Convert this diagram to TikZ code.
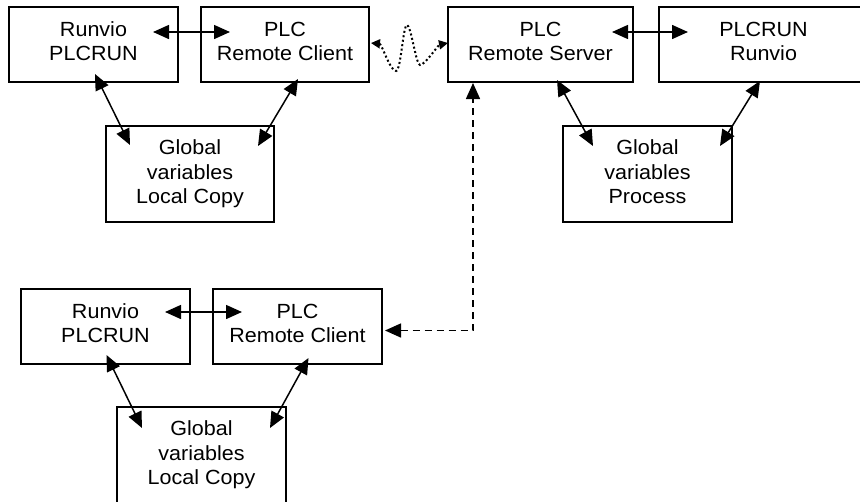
\documentclass[tikz,border=0pt]{standalone}
\usepackage{fontspec}
\setmainfont{Liberation Sans}[FakeStretch=1.05]
\usetikzlibrary{arrows.meta,calc}
\begin{document}
\begin{tikzpicture}[x=1pt,y=-1pt,
  box/.style={draw, line width=1.5pt, align=center, inner sep=0pt, outer sep=0pt,
    font=\fontsize{20.5}{24.5}\selectfont},
  twoline/.style={box, minimum height=75pt, text depth=6.5pt},
  threeline/.style={box, minimum height=96pt, text depth=4.5pt},
  conn/.style={line width=1.5pt, {Triangle[length=16pt,width=14pt]}-{Triangle[length=16pt,width=14pt]}},
  dashconn/.style={conn, dash pattern=on 7pt off 5pt},
  dotconn/.style={line width=2pt, dash pattern=on 2pt off 2.5pt,
    {Triangle[length=9pt,width=9pt]}-{Triangle[length=9pt,width=9pt]}}
]
\fill[white] (0,0) rectangle (860,501);
\useasboundingbox (0,0) rectangle (860,501);

\node[twoline, minimum width=169pt] (b1) at (93.5,44.5) {Runvio\\PLCRUN};
\node[twoline, minimum width=168pt] (b2) at (285,44.5) {PLC\\Remote Client};
\node[threeline, minimum width=168pt] (b3) at (190,174) {Global\\variables\\Local Copy};
\node[twoline, minimum width=185pt] (b4) at (540.5,44.5) {PLC\\Remote Server};
\node[twoline, minimum width=209pt] (b5) at (763.5,44.5) {PLCRUN\\Runvio};
\node[threeline, minimum width=169pt] (b6) at (647.5,174) {Global\\variables\\Process};
\node[twoline, minimum width=169pt] (b7) at (105.5,326.5) {Runvio\\PLCRUN};
\node[twoline, minimum width=169pt] (b8) at (297.5,326.5) {PLC\\Remote Client};
\node[threeline, minimum width=169pt] (b9) at (201.5,455) {Global\\variables\\Local Copy};

% horizontal links
\draw[conn] ($(b1.north east)+(-25,25)$) -- ($(b2.north west)+(29,25)$);
\draw[conn] ($(b4.north east)+(-21,25)$) -- ($(b5.north west)+(29,25)$);
\draw[conn] ($(b7.north east)+(-25,23)$) -- ($(b8.north west)+(29,23)$);

% diagonal links
\draw[conn] ($(b1.south)+(1.5,-8)$) -- ($(b3.north west)+(24,19)$);
\draw[conn] ($(b2.south)+(13,-3)$) -- ($(b3.north east)+(-16,20)$);
\draw[conn] ($(b4.south)+(16.5,-2)$) -- ($(b6.north west)+(30,20)$);
\draw[conn] ($(b5.south west)+(101,-1)$) -- ($(b6.north east)+(-12,20)$);
\draw[conn] ($(b7.south)+(1,-9)$) -- ($(b9.north west)+(25,21)$);
\draw[conn] ($(b8.south)+(11,-6)$) -- ($(b9.north east)+(-16,21)$);

% dashed link
\draw[dashconn] ($(b8.east)+(3,4)$) -| ($(b4.south west)+(25,1)$);

% wavy dotted link
\draw[dotconn] ($(b2.east)+(2,-1.5)$) .. controls (382,44) and (390,71) .. (396,71)
  .. controls (401,71) and (403,25) .. (407,25)
  .. controls (411,25) and (416,65) .. (420,65)
  .. controls (425,65) and (438,45) .. ($(b4.west)+(0,-1.5)$);
\end{tikzpicture}
\end{document}
